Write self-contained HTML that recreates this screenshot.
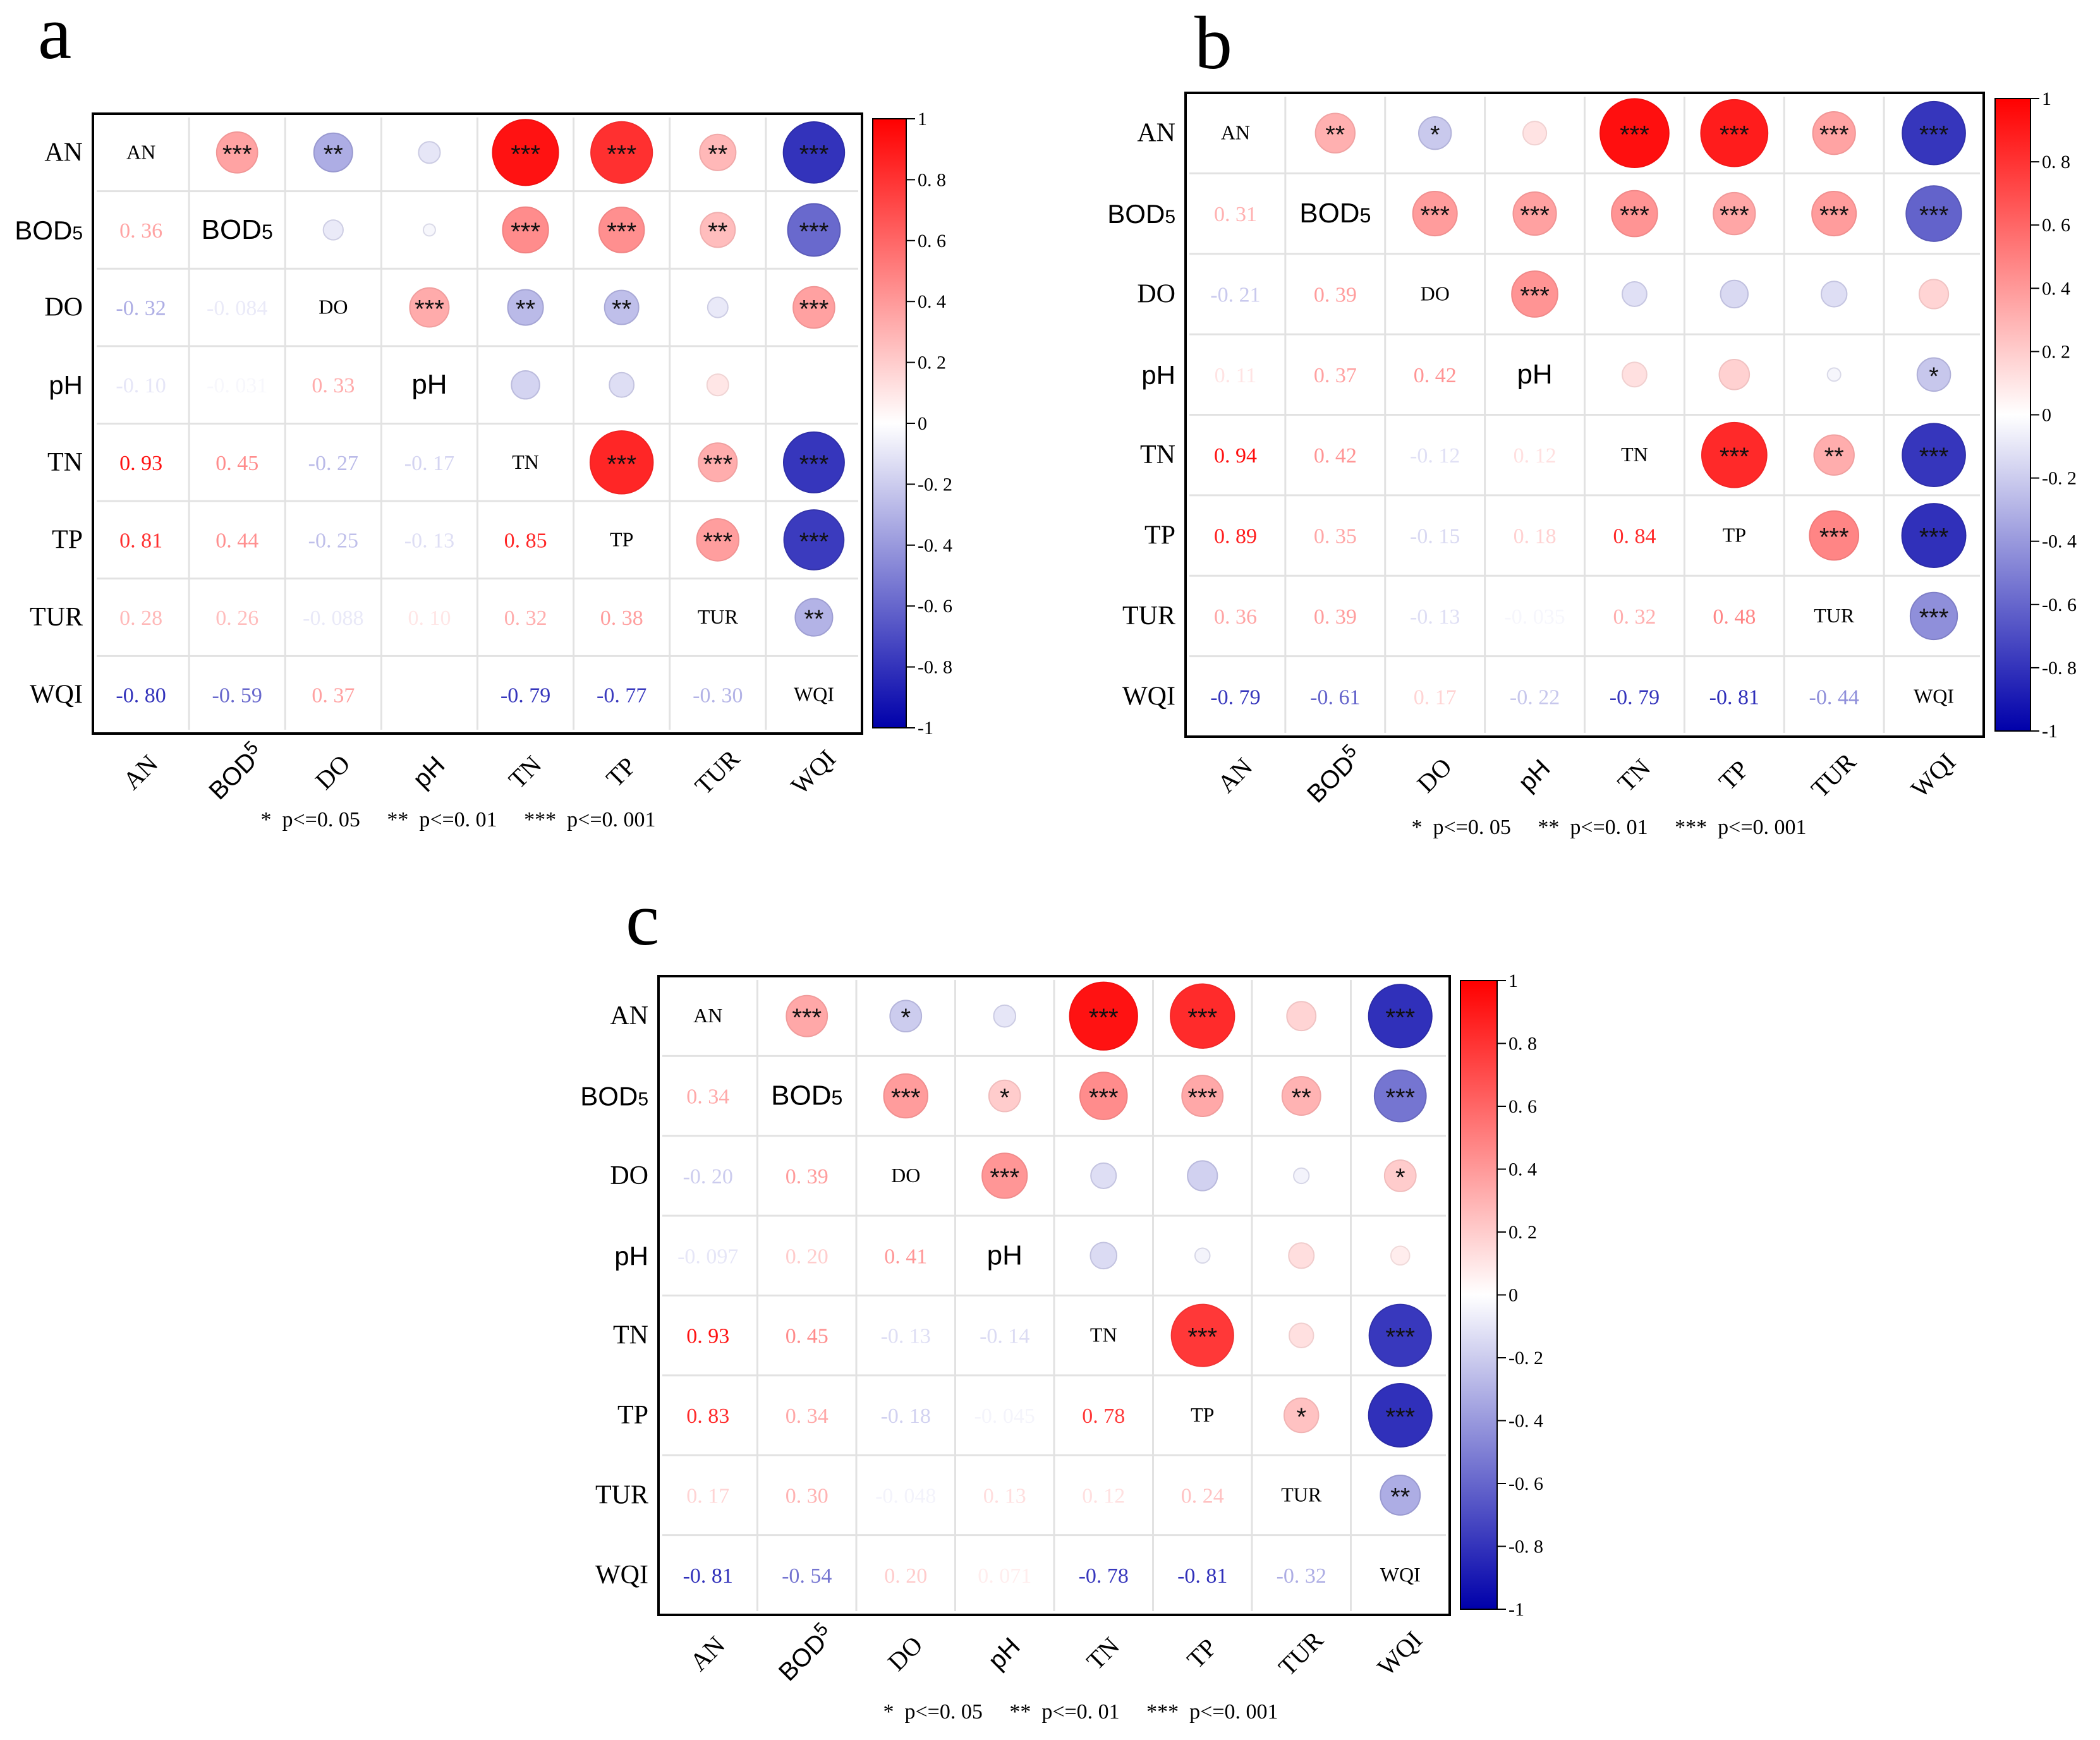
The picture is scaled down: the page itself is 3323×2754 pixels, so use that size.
<!DOCTYPE html>
<html><head><meta charset="utf-8">
<style>
html,body{margin:0;padding:0;background:#fff;}
svg{display:block;}
text{font-family:"Liberation Serif","Noto Serif CJK SC",serif;}
.sans{font-family:"Liberation Sans","DejaVu Sans",sans-serif;}
.pre{white-space:pre;}
</style></head>
<body>
<svg id="chart" width="3323" height="2754" viewBox="0 0 3323 2754" xmlns="http://www.w3.org/2000/svg">
<defs>
<linearGradient id="cbgrad" x1="0" y1="0" x2="0" y2="1">
<stop offset="0" stop-color="rgb(255,0,0)"/>
<stop offset="0.5" stop-color="rgb(255,255,255)"/>
<stop offset="1" stop-color="rgb(0,0,170)"/>
</linearGradient>
</defs>
</svg>
<script>
const categories = ["AN","BOD5","DO","pH","TN","TP","TUR","WQI"];
const cbTicks = [1,0.8,0.6,0.4,0.2,0,-0.2,-0.4,-0.6,-0.8,-1];
const cbTickLabels = ["1","0.8","0.6","0.4","0.2","0","-0.2","-0.4","-0.6","-0.8","-1"];
// lower-triangle correlations (row i, cols 0..i-1)
const valuesA = [[],[0.36],[-0.32,-0.084],[-0.10,-0.031,0.33],[0.93,0.45,-0.27,-0.17],[0.81,0.44,-0.25,-0.13,0.85],[0.28,0.26,-0.088,0.10,0.32,0.38],[-0.80,-0.59,0.37,0,-0.79,-0.77,-0.30]];
const labelsA = [[],["0.36"],["-0.32","-0.084"],["-0.10","-0.031","0.33"],["0.93","0.45","-0.27","-0.17"],["0.81","0.44","-0.25","-0.13","0.85"],["0.28","0.26","-0.088","0.10","0.32","0.38"],["-0.80","-0.59","0.37","","-0.79","-0.77","-0.30"]];
// upper-triangle significance (row i, cols i+1..7)
const starsA = [["***","**","","***","***","**","***"],["","","***","***","**","***"],["***","**","**","","***"],["","","",""],["***","***","***"],["***","***"],["**"],[]];
const valuesB = [[],[0.31],[-0.21,0.39],[0.11,0.37,0.42],[0.94,0.42,-0.12,0.12],[0.89,0.35,-0.15,0.18,0.84],[0.36,0.39,-0.13,-0.035,0.32,0.48],[-0.79,-0.61,0.17,-0.22,-0.79,-0.81,-0.44]];
const labelsB = [[],["0.31"],["-0.21","0.39"],["0.11","0.37","0.42"],["0.94","0.42","-0.12","0.12"],["0.89","0.35","-0.15","0.18","0.84"],["0.36","0.39","-0.13","-0.035","0.32","0.48"],["-0.79","-0.61","0.17","-0.22","-0.79","-0.81","-0.44"]];
const starsB = [["**","*","","***","***","***","***"],["***","***","***","***","***","***"],["***","","","",""],["","","","*"],["***","**","***"],["***","***"],["***"],[]];
const valuesC = [[],[0.34],[-0.20,0.39],[-0.097,0.20,0.41],[0.93,0.45,-0.13,-0.14],[0.83,0.34,-0.18,-0.045,0.78],[0.17,0.30,-0.048,0.13,0.12,0.24],[-0.81,-0.54,0.20,0.071,-0.78,-0.81,-0.32]];
const labelsC = [[],["0.34"],["-0.20","0.39"],["-0.097","0.20","0.41"],["0.93","0.45","-0.13","-0.14"],["0.83","0.34","-0.18","-0.045","0.78"],["0.17","0.30","-0.048","0.13","0.12","0.24"],["-0.81","-0.54","0.20","0.071","-0.78","-0.81","-0.32"]];
const starsC = [["***","*","","***","***","","***"],["***","*","***","***","**","***"],["***","","","","*"],["","","",""],["***","","***"],["*","***"],["**"],[]];

const NS = "http://www.w3.org/2000/svg";
const svg = document.getElementById("chart");
function mk(tag, attrs, parent, txt){
  const e = document.createElementNS(NS, tag);
  for (const k in attrs) e.setAttribute(k, attrs[k]);
  if (txt !== undefined) e.textContent = txt;
  parent.appendChild(e);
  return e;
}
function color(v){
  v = Math.max(-1, Math.min(1, v));
  if (v >= 0){ const g = Math.round(255*(1-v)); return `rgb(255,${g},${g})`; }
  const a = -v; const g = Math.round(255*(1-a)); return `rgb(${g},${g},${Math.round(255-85*a)})`;
}
function edge(v){
  v = Math.max(-1, Math.min(1, v));
  if (v >= 0){ const g = Math.round(235*(1-v)); return `rgb(240,${g},${g})`; }
  const a = -v; const g = Math.round(225*(1-a)); return `rgb(${g},${g},${Math.round(235-85*a)})`;
}
function getVal(vals, i, j){ return i > j ? vals[i][j] : vals[j][i]; }

function panel(cfg, vals, labs, stars){
  const g = mk("g", {}, svg);
  
  
  const cw = (cfg.x1 - cfg.x0)/8, ch = (cfg.y1 - cfg.y0)/8;
  const xs = j => cfg.x0 + cw*(j+0.5);
  const ys = i => cfg.y0 + ch*(i+0.5);
  const rmax = 0.44*Math.min(cw, ch);
  const pl = mk("text", {x: cfg.lx, y: cfg.ly, "font-size": 120, fill: "#000"}, g, cfg.letter);
  
  
  for (let k = 1; k < 8; k++){
    mk("line", {x1: cfg.x0+cw*k, y1: cfg.y0+6, x2: cfg.x0+cw*k, y2: cfg.y1-6, stroke: "#e2e2e2", "stroke-width": 3}, g);
    mk("line", {x1: cfg.x0+6, y1: cfg.y0+ch*k, x2: cfg.x1-6, y2: cfg.y0+ch*k, stroke: "#e2e2e2", "stroke-width": 3}, g);
  }
  const fr = mk("rect", {x: cfg.x0, y: cfg.y0, width: cfg.x1-cfg.x0, height: cfg.y1-cfg.y0, fill: "none", stroke: "#000", "stroke-width": 4}, g);
  
  
  for (let i = 0; i < 8; i++){
    for (let j = 0; j < 8; j++){
      if (i === j){
        const nm = categories[i];
        const isSans = (nm === "BOD5" || nm === "pH");
        const t = mk("text", {x: xs(j), y: ys(i) + (isSans ? 14 : 10), "text-anchor": "middle", "font-size": isSans ? 44 : 32, fill: "#000", class: isSans ? "sans" : ""}, g);
        if (nm === "BOD5"){ t.textContent = "BOD"; mk("tspan", {"font-size": 32}, t, "5"); }
        else t.textContent = nm;
        
        
      } else if (i > j){
        const v = vals[i][j];
        const t = mk("text", {x: xs(j), y: ys(i)+12, "text-anchor": "middle", "font-size": 34, fill: color(v)}, g, labs[i][j].replace(".", ". "));
        
        
      } else {
        const v = getVal(vals, i, j);
        const r = Math.sqrt(Math.abs(v))*rmax;
        if (r > 2){
          const c = mk("circle", {cx: xs(j), cy: ys(i), r: r, fill: color(v), stroke: edge(v), "stroke-width": 2}, g);
          
          
        }
        const s = stars[i][j-i-1];
        if (s){
          const t = mk("text", {x: xs(j), y: ys(i)+16, "text-anchor": "middle", "font-size": 40, fill: "#111", class: "sans"}, g, s);
          
          
        }
      }
    }
  }
  categories.forEach((nm, i) => {
    const isSans = (nm === "BOD5" || nm === "pH");
    const t = mk("text", {x: cfg.x0 - 16, y: ys(i) + (isSans ? 15 : 13), "text-anchor": "end", "font-size": 42, fill: "#000", class: isSans ? "sans" : ""}, g);
    if (nm === "BOD5"){ t.textContent = "BOD"; mk("tspan", {"font-size": 30}, t, "5"); } else t.textContent = nm;
    
    
    const cx = xs(i), cy = cfg.y1 + 62;
    const u = mk("text", {x: cx, y: cy+12, "text-anchor": "middle", "font-size": 40, fill: "#000", transform: `rotate(-45 ${cx} ${cy})`, class: isSans ? "sans" : ""}, g);
    if (nm === "BOD5"){ u.textContent = "BOD"; mk("tspan", {"font-size": 30, dy: -14}, u, "5"); } else u.textContent = nm;
    
    
  });
  const cb = mk("rect", {x: cfg.cbx, y: cfg.cby0, width: cfg.cbw, height: cfg.cby1-cfg.cby0, fill: "url(#cbgrad)", stroke: "#000", "stroke-width": 2}, g);
  
  
  const cbY = v => cfg.cby0 + (1 - v)/2*(cfg.cby1 - cfg.cby0);
  cbTicks.forEach((v, k) => {
    const y = cbY(v);
    mk("line", {x1: cfg.cbx+cfg.cbw, y1: y, x2: cfg.cbx+cfg.cbw+14, y2: y, stroke: "#000", "stroke-width": 2}, g);
    const t = mk("text", {x: cfg.cbx+cfg.cbw+18, y: y+10, "font-size": 30, fill: "#000"}, g, cbTickLabels[k].replace(".", ". "));
    
    
  });
  const lg = mk("text", {x: cfg.legx, y: cfg.legy, "text-anchor": "middle", "font-size": 34, fill: "#000", class: "pre"}, g, "*  p<=0. 05     **  p<=0. 01     ***  p<=0. 001");
  
  
}

panel({letter:"a", lx:60, ly:92, x0:147, x1:1364, y0:180, y1:1161, cbx:1381, cbw:53, cby0:188, cby1:1152, legx:725, legy:1308}, valuesA, labelsA, starsA);
panel({letter:"b", lx:1890, ly:108, x0:1876, x1:3139, y0:147, y1:1166, cbx:3157, cbw:56, cby0:156, cby1:1157, legx:2546, legy:1320}, valuesB, labelsB, starsB);
panel({letter:"c", lx:990, ly:1495, x0:1042, x1:2294, y0:1545, y1:2556, cbx:2311, cbw:58, cby0:1552, cby1:2547, legx:1710, legy:2720}, valuesC, labelsC, starsC);
</script>
</body></html>
